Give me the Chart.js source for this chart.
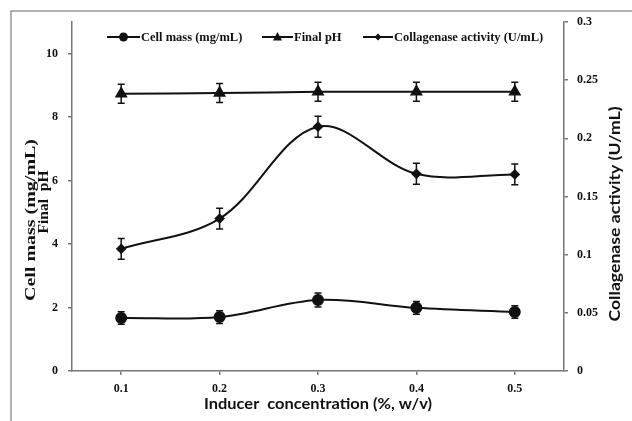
<!DOCTYPE html>
<html>
<head>
<meta charset="utf-8">
<script src="https://cdn.jsdelivr.net/npm/chart.js@4/dist/chart.umd.min.js"></script>
<style>
  body { margin: 0; background: #fff; }
  #wrap { width: 632px; height: 421px; }
</style>
</head>
<body>
<div id="wrap"><canvas id="myChart" width="632" height="421"></canvas></div>
<script>
// 데이터
const concentrations = ['0.1', '0.2', '0.3', '0.4', '0.5'];
const cellMass = [1.67, 1.70, 2.24, 1.99, 1.86];
const cellMassErr = [0.2, 0.2, 0.22, 0.2, 0.2];
const finalPH = [8.74, 8.76, 8.80, 8.80, 8.80];
const finalPHErr = [0.3, 0.3, 0.3, 0.3, 0.3];
const collagenase = [0.105, 0.131, 0.210, 0.1695, 0.169];
const collagenaseErr = [0.009, 0.009, 0.009, 0.009, 0.009];
const leftTicks = [0, 2, 4, 6, 8, 10];

const ink = '#111';
const axisGrey = '#777';
const tickFont = { family: 'Liberation Serif', weight: 'bold', size: 12 };

// 에러바 그리기
const errorBars = {
    id: 'errorBars',
    afterDatasetsDraw(chart) {
        const ctx = chart.ctx;
        const xs = chart.scales.x;
        ctx.save();
        ctx.strokeStyle = ink;
        ctx.lineWidth = 1.5;
        chart.data.datasets.forEach(ds => {
            const ys = chart.scales[ds.yAxisID];
            ds.data.forEach((v, i) => {
                const x = xs.getPixelForValue(i);
                const top = ys.getPixelForValue(v + ds.err[i]);
                const bot = ys.getPixelForValue(v - ds.err[i]);
                ctx.beginPath();
                ctx.moveTo(x, top); ctx.lineTo(x, bot);
                ctx.moveTo(x - 3.5, top); ctx.lineTo(x + 3.5, top);
                ctx.moveTo(x - 3.5, bot); ctx.lineTo(x + 3.5, bot);
                ctx.stroke();
            });
        });
        ctx.restore();
    }
};

function drawMarker(ctx, style, x, y) {
    ctx.beginPath();
    if (style === 'circle') {
        ctx.arc(x, y, 4.5, 0, Math.PI * 2);
    } else if (style === 'triangle') {
        ctx.moveTo(x, y - 5); ctx.lineTo(x + 4.5, y + 3.5); ctx.lineTo(x - 4.5, y + 3.5);
        ctx.closePath();
    } else {
        ctx.moveTo(x, y - 3.5); ctx.lineTo(x + 3.5, y); ctx.lineTo(x, y + 3.5); ctx.lineTo(x - 3.5, y);
        ctx.closePath();
    }
    ctx.fill();
}

// 글자를 정해진 길이에 맞춰 그리기 (원본 그림이 늘어나 있음)
function fitText(ctx, text, cx, cy, len, rotate) {
    const w = ctx.measureText(text).width;
    ctx.save();
    ctx.translate(cx, cy);
    if (rotate) ctx.rotate(-Math.PI / 2);
    ctx.scale(len / w, 1);
    ctx.textAlign = 'center';
    ctx.textBaseline = 'middle';
    ctx.fillText(text, 0, 0);
    ctx.restore();
}

// 테두리, 범례, 축 제목
const decorations = {
    id: 'decorations',
    beforeDraw(chart) {
        const ctx = chart.ctx;
        ctx.save();
        ctx.fillStyle = '#fff';
        ctx.fillRect(0, 0, chart.width, chart.height);
        ctx.strokeStyle = '#999';
        ctx.lineWidth = 1.5;
        ctx.strokeRect(11, 11, 700, 500);
        ctx.restore();
    },
    afterDraw(chart) {
        const ctx = chart.ctx;
        ctx.save();
        ctx.fillStyle = ink;
        ctx.strokeStyle = ink;
        // 범례
        const items = [
            { text: 'Cell mass (mg/mL)', style: 'circle', x0: 107, x1: 140 },
            { text: 'Final pH', style: 'triangle', x0: 262, x1: 293 },
            { text: 'Collagenase activity (U/mL)', style: 'rectRot', x0: 363, x1: 393 }
        ];
        const ly = 37;
        ctx.font = 'bold 12.5px "Liberation Serif"';
        ctx.textBaseline = 'middle';
        items.forEach(it => {
            ctx.lineWidth = 2;
            ctx.beginPath();
            ctx.moveTo(it.x0, ly); ctx.lineTo(it.x1, ly);
            ctx.stroke();
            drawMarker(ctx, it.style, (it.x0 + it.x1) / 2, ly);
            ctx.fillText(it.text, it.x1 + 1, ly + 1);
        });
        // x축 제목
        ctx.font = 'bold 16px Lato';
        fitText(ctx, 'Inducer  concentration (%, w/v)', 318, 404, 228, false);
        // 왼쪽 축 제목
        ctx.font = 'bold 15.5px "Liberation Serif"';
        fitText(ctx, 'Cell mass (mg/mL)', 31, 220, 162, true);
        fitText(ctx, 'Final  pH', 44, 202, 63, true);
        // 오른쪽 축 제목
        ctx.font = 'bold 15px Lato';
        fitText(ctx, 'Collagenase activity (U/mL)', 615, 214, 215, true);
        ctx.restore();
    }
};

const ctx = document.getElementById('myChart').getContext('2d');
const myChart = new Chart(ctx, {
    type: 'line',
    data: {
        labels: concentrations,
        datasets: [
            {
                label: 'Cell mass (mg/mL)',
                data: cellMass,
                err: cellMassErr,
                yAxisID: 'y',
                borderColor: ink,
                backgroundColor: ink,
                borderWidth: 2,
                pointStyle: 'circle',
                pointRadius: 5,
                tension: 0.35
            },
            {
                label: 'Final pH',
                data: finalPH,
                err: finalPHErr,
                yAxisID: 'y',
                borderColor: ink,
                backgroundColor: ink,
                borderWidth: 2,
                pointStyle: 'triangle',
                pointRadius: 5.5,
                tension: 0.35
            },
            {
                label: 'Collagenase activity (U/mL)',
                data: collagenase,
                err: collagenaseErr,
                yAxisID: 'y1',
                borderColor: ink,
                backgroundColor: ink,
                borderWidth: 2,
                pointStyle: 'rectRot',
                pointRadius: 4,
                tension: 0.35
            }
        ]
    },
    options: {
        responsive: false,
        animation: false,
        layout: { padding: { top: 22, left: 0, right: 0, bottom: 0 } },
        plugins: {
            legend: { display: false },
            tooltip: { enabled: false }
        },
        scales: {
            x: {
                type: 'category',
                offset: true,
                afterFit(scale) { scale.height = 50; },
                grid: { offset: false, drawOnChartArea: false, tickLength: 4, tickColor: axisGrey, lineWidth: 1.5 },
                border: { color: axisGrey, width: 1.5 },
                ticks: { color: ink, font: tickFont, padding: 7 }
            },
            y: {
                position: 'left',
                min: 0,
                max: 11,
                afterFit(scale) { scale.width = 72; },
                afterBuildTicks(scale) { scale.ticks = leftTicks.map(v => ({ value: v })); },
                grid: { drawOnChartArea: false, tickLength: 4, tickColor: axisGrey, lineWidth: 1.5 },
                border: { color: axisGrey, width: 1.5 },
                ticks: { color: ink, font: tickFont, padding: 10 }
            },
            y1: {
                position: 'right',
                min: 0,
                max: 0.3,
                afterFit(scale) { scale.width = 68; },
                grid: { drawOnChartArea: false, tickLength: 4, tickColor: axisGrey, lineWidth: 1.5 },
                border: { color: axisGrey, width: 1.5 },
                ticks: {
                    stepSize: 0.05,
                    color: ink,
                    font: tickFont,
                    padding: 9,
                    callback: v => String(+v.toFixed(2))
                }
            }
        }
    },
    plugins: [errorBars, decorations]
});
</script>
</body>
</html>
